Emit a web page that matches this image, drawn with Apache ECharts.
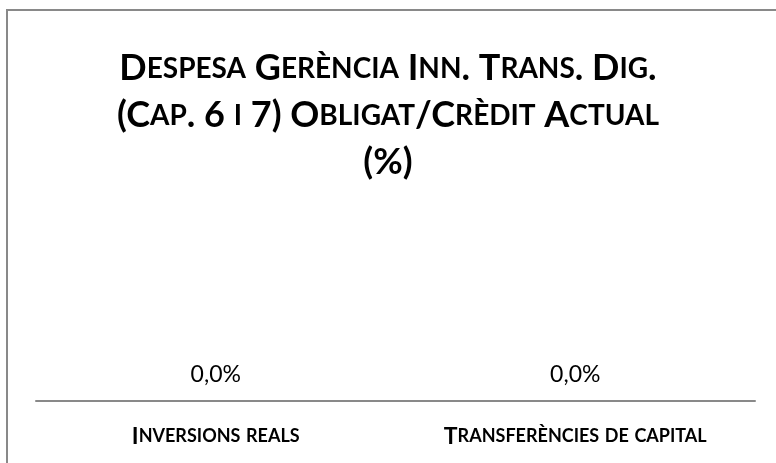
<!DOCTYPE html>
<html>
<head>
<meta charset="utf-8">
<script src="https://cdn.jsdelivr.net/npm/echarts@6/dist/echarts.min.js"></script>
<style>
  html, body { margin: 0; padding: 0; background: #fff; }
  #chart { width: 776px; height: 463px; }
</style>
</head>
<body>
<div id="chart"></div>
<script>
const titleLines = [
  'Despesa Gerència Inn. Trans. Dig.',
  '(Cap. 6 i 7) Obligat/Crèdit Actual',
  '(%)'
];
const categories = ['Inversions reals', 'Transferències de capital'];
const values = [0.0, 0.0];

// Emulate small caps: lowercase letters become smaller uppercase
function smallCaps(str, big, small) {
  let out = '';
  let run = '';
  let runSmall = null;
  const flush = () => {
    if (run) out += '{' + (runSmall ? small : big) + '|' + run + '}';
    run = '';
  };
  for (const ch of str) {
    const isSmall = ch !== ch.toUpperCase();
    if (runSmall !== null && isSmall !== runSmall) flush();
    runSmall = isSmall;
    run += isSmall ? ch.toUpperCase() : ch;
  }
  flush();
  return out;
}

const FONT = 'Lato';
const chart = echarts.init(document.getElementById('chart'));
chart.setOption({
  animation: false,
  title: {
    text: titleLines.map(l => smallCaps(l, 'b', 's')).join('\n'),
    left: 'center',
    top: 40,
    textStyle: {
      rich: {
        b: { fontFamily: FONT, fontWeight: 'bold', fontSize: 36, color: '#000', lineHeight: 47 },
        s: { fontFamily: FONT, fontWeight: 'bold', fontSize: 28, color: '#000', lineHeight: 47 }
      }
    }
  },
  graphic: [{
    type: 'polyline',
    shape: { points: [[7, 463], [7, 10], [776, 10]] },
    style: { stroke: '#898989', lineWidth: 2, fill: null }
  }],
  grid: { left: 36, right: 21, top: 200, bottom: 62 },
  xAxis: {
    type: 'category',
    data: categories,
    axisLine: { lineStyle: { color: '#898989', width: 2 } },
    axisTick: { show: false },
    axisLabel: {
      interval: 0,
      margin: 24,
      fontFamily: FONT,
      fontWeight: 'bold',
      fontSize: 23,
      color: '#000',
      formatter: v => smallCaps(v, 'b', 's'),
      rich: {
        b: { fontFamily: FONT, fontWeight: 'bold', fontSize: 23, color: '#000' },
        s: { fontFamily: FONT, fontWeight: 'bold', fontSize: 18, color: '#000' }
      }
    }
  },
  yAxis: { type: 'value', min: 0, max: 1, show: false, splitLine: { show: false } },
  series: [{
    type: 'bar',
    data: values,
    barWidth: '40%',
    itemStyle: { color: '#4472c4' },
    label: {
      show: true,
      position: 'top',
      distance: 15,
      fontFamily: FONT,
      fontSize: 23,
      color: '#000',
      formatter: p => p.value.toFixed(1).replace('.', ',') + '%'
    }
  }]
});
</script>
</body>
</html>
